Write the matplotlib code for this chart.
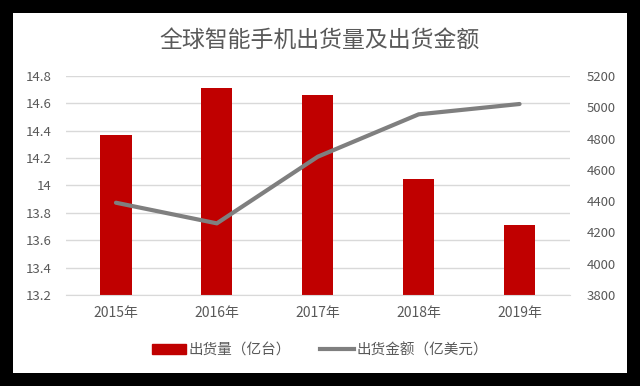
import matplotlib.pyplot as plt
from matplotlib.patches import Rectangle
from matplotlib.lines import Line2D

plt.rcParams['font.family'] = ['Noto Sans CJK SC', 'DejaVu Sans']

years = ['2015年', '2016年', '2017年', '2018年', '2019年']
shipments = [14.37, 14.71, 14.66, 14.05, 13.71]        # 亿台
revenue = [4390, 4258, 4684, 4955, 5021]               # 亿美元

grey_txt = '#595959'

fig = plt.figure(figsize=(6.4, 3.86), dpi=100, facecolor='black')
fig.patches.append(Rectangle((13 / 640, 13 / 386), 614 / 640, 360 / 386,
                             transform=fig.transFigure, facecolor='white',
                             edgecolor='none', zorder=-10))

ax = fig.add_axes([65.5 / 640, 91 / 386, 504.5 / 640, 219 / 386])
ax.set_facecolor('none')
x = list(range(len(years)))
ax.bar(x, shipments, width=0.31, color='#c00000', zorder=2)
ax.set_ylim(13.2, 14.8)
ax.set_yticks([13.2 + 0.2 * i for i in range(9)])
ax.set_yticklabels(['13.2', '13.4', '13.6', '13.8', '14', '14.2', '14.4', '14.6', '14.8'])
ax.set_xlim(-0.5, len(years) - 0.5)
ax.set_xticks(x)
ax.set_xticklabels(years)
ax.grid(axis='y', color='#d9d9d9', lw=1, zorder=0)
ax.set_axisbelow(True)
for s in ['top', 'left', 'right']:
    ax.spines[s].set_visible(False)
ax.spines['bottom'].set_color('#d9d9d9')
ax.tick_params(length=0, colors=grey_txt)
ax.tick_params(axis='x', pad=8, labelsize=10)
ax.tick_params(axis='y', pad=10, labelsize=9.5)

ax2 = ax.twinx()
ax2.plot(x, revenue, color='#7f7f7f', lw=3, zorder=3, solid_capstyle='round')
ax2.set_ylim(3800, 5200)
ax2.set_yticks(range(3800, 5201, 200))
for s in ax2.spines.values():
    s.set_visible(False)
ax2.tick_params(length=0, colors=grey_txt, labelsize=9.5, pad=12)

fig.text(0.5, 0.895, '全球智能手机出货量及出货金额', ha='center', va='center',
         fontsize=16.5, color=grey_txt)

handles = [Rectangle((0, 0), 1, 1, color='#c00000'),
           Line2D([], [], color='#7f7f7f', lw=3)]
fig.legend(handles, ['出货量（亿台）', '出货金额（亿美元）'], loc='center',
           bbox_to_anchor=(0.5, 36 / 386), ncol=2, frameon=False,
           fontsize=10.5, labelcolor=grey_txt, handlelength=2.3,
           handletextpad=0.2, columnspacing=2.0)

fig.savefig('out.png', dpi=100)
